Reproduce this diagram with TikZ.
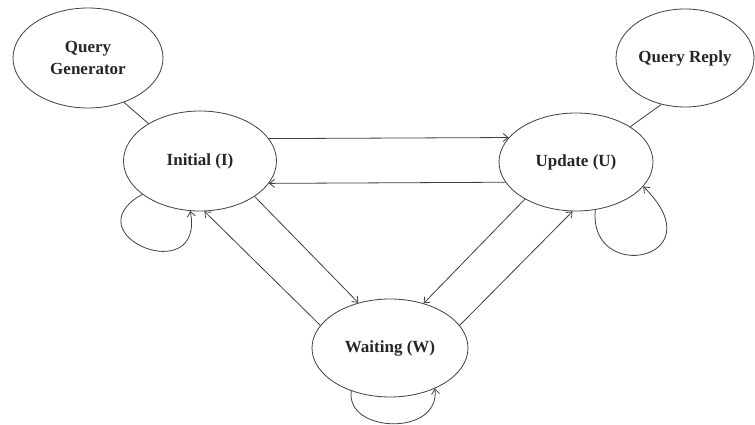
\documentclass[tikz,border=0pt]{standalone}
\usepackage{fontspec}
\setmainfont{Liberation Serif}
\usetikzlibrary{shapes.geometric,arrows.meta}
\begin{document}
\begin{tikzpicture}[x=1pt,y=1pt,
  state/.style={draw=black!75, line width=0.8pt, ellipse, inner sep=0pt,
    font=\fontsize{17}{22}\selectfont\bfseries, text=black!85, align=center},
  link/.style={draw=black!75, line width=0.8pt},
  arc/.style={link, -{Straight Barb[length=5pt,width=8pt]}}]
\useasboundingbox (0,0) rectangle (755,425);
\fill[white] (0,0) rectangle (755,425);

% states
\node[state, minimum width=150, minimum height=100] (qg) at (88,367) {Query\\Generator};
\node[state, minimum width=138, minimum height=98] (qr) at (685,367) {Query Reply};
\node[state, minimum width=153, minimum height=100] (init) at (200,264) {Initial (I)};
\node[state, minimum width=154, minimum height=98] (upd) at (576,263) {Update (U)};
\node[state, minimum width=156, minimum height=98] (wait) at (390,77) {Waiting (W)};

% attachments
\draw[link] (qg.-51.3) -- (init.144.2);
\draw[link] (qr.243) -- (upd.33.5);

% transitions between states
\draw[arc] (init.18.8) -- (upd.160.3);
\draw[arc] (upd.196.8) -- (init.342.2);
\draw[arc] (init.-33) -- (wait.125.7);
\draw[arc] (wait.162.3) -- (init.275.6);
\draw[arc] (upd.216.2) -- (wait.53.1);
\draw[arc] (wait.18.2) -- (upd.266.4);

% self loops
\draw[arc] (init.210.8) .. controls (70,190) and (205,135) .. (init.259);
\draw[arc] (upd.292.6) .. controls (588,140) and (718,165) .. (upd.340.1);
\draw[arc] (wait.228.4) .. controls (345,-8) and (440,-12) .. (wait.318.2);
\end{tikzpicture}
\end{document}
